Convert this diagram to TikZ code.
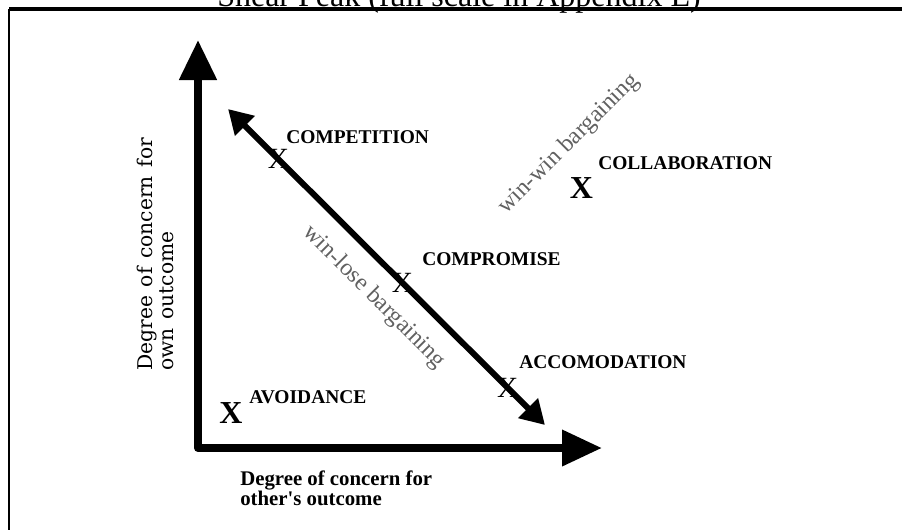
\documentclass[tikz,border=0pt]{standalone}
\usepackage{fontspec}
\setmainfont{Liberation Serif}
\newfontfamily\slabfont[WordSpace={1.35,0,0}]{DejaVu Serif}
\usetikzlibrary{arrows.meta,calc}
\tikzset{
    axisline/.style = {line width=6pt, line join=round,
        arrows={Triangle[length=30pt,width=27pt]-Triangle[length=30pt,width=26pt]}},
    diagline/.style = {line width=4.5pt,
        arrows={Triangle[length=18pt,width=20pt]-Triangle[length=18pt,width=20pt]}},
    strategy/.style = {font=\bfseries\fontsize{14.6}{16}\selectfont, inner sep=0pt, anchor=base west},
    xmark/.style = {font=\fontsize{22}{24}\selectfont, inner sep=0pt},
    bigxmark/.style = {font=\bfseries\fontsize{24}{26}\selectfont, inner sep=0pt, anchor=base},
    bargain/.style = {font=\fontsize{18}{20}\selectfont, text=black!62, inner sep=0pt},
    xlabelstyle/.style = {font=\bfseries\fontsize{15.6}{15}\selectfont, align=left, inner sep=0pt},
    ylabelstyle/.style = {font=\slabfont\fontsize{15.2}{15.8}\selectfont, align=left, inner sep=0pt}
}

\begin{document}
\begin{tikzpicture}[x=0.75pt, y=-0.75pt]
        \useasboundingbox (0,0) rectangle (902,529);
        % caption, cut by the page edge
        \node [font=\fontsize{24}{26}\selectfont, inner sep=0pt, anchor=base west] (caption) at (217,6) {Shear Peak (full scale in Appendix E)};
        % frame
        \coordinate (framesw) at (9,540);
        \coordinate (framenw) at (9,9);
        \coordinate (framene) at (910,9);
        \draw [line width=1.6pt] (framesw) -- (framenw);
        \draw [line width=2.4pt] (framenw) -- (framene);
        % axes
        \coordinate (origin) at (198,448);
        \coordinate (ytip) at (198,40);
        \coordinate (xtip) at (602,448);
        \draw [axisline] (ytip) -- (origin) -- (xtip);
        \node [ylabelstyle, rotate=90, anchor=south west] (ylabel) at (174,371) {Degree of concern for\\own outcome};
        \node [xlabelstyle, anchor=north west] (xlabel) at (240,471) {Degree of concern for\\other\textquotesingle s outcome};
        % win-lose line
        \coordinate (nw) at (228,109);
        \coordinate (se) at (545,425);
        \draw [diagline] (nw) -- (se);
        \foreach \pos/\nm in {0.159/competition, 0.550/compromise, 0.882/accomodation}{
            \node [xmark] (x\nm) at ($(nw)!\pos!(se)$) {X};
        }
        \node [strategy] (competition) at (286,143) {COMPETITION};
        \node [strategy] (compromise) at (422,265) {COMPROMISE};
        \node [strategy] (accomodation) at (519,368) {ACCOMODATION};
        \node [bigxmark] (xcollaboration) at (581.5,198) {X};
        \node [strategy] (collaboration) at (598,169) {COLLABORATION};
        \node [bigxmark] (xavoidance) at (231,423) {X};
        \node [strategy] (avoidance) at (249,403) {AVOIDANCE};
        \node [bargain, rotate=-45] (winlose) at (374,297) {win-lose bargaining};
        \node [bargain, rotate=45] (winwin) at (569,144) {win-win bargaining};
\end{tikzpicture}
\end{document}
